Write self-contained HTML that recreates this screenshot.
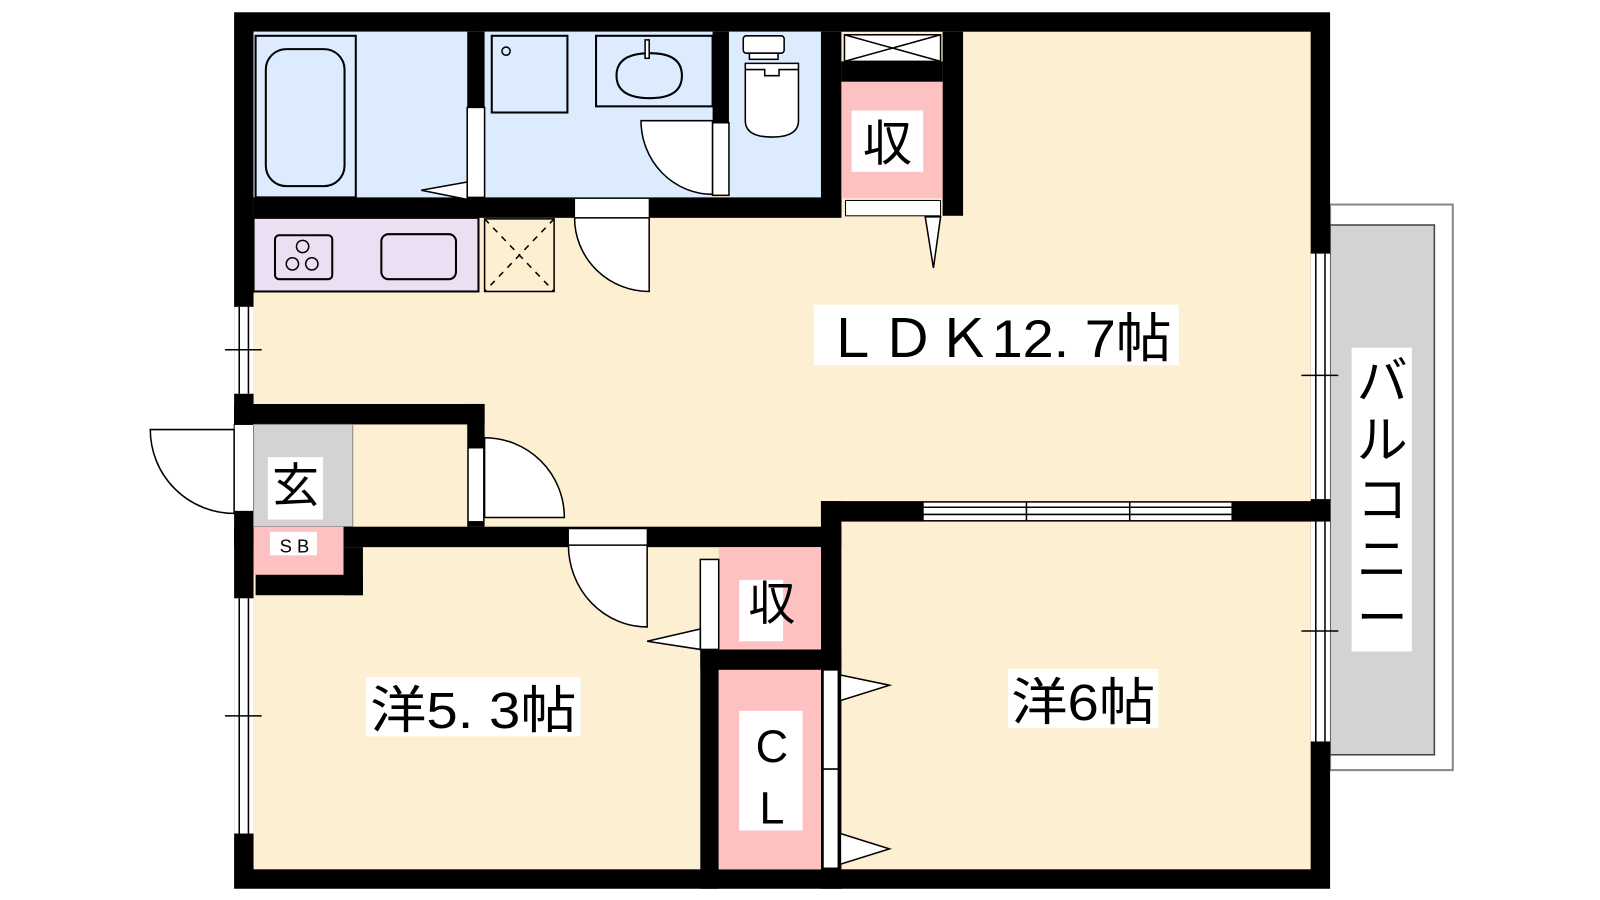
<!DOCTYPE html>
<html><head><meta charset="utf-8"><style>
html,body{margin:0;padding:0;background:#fff;width:1600px;height:900px;overflow:hidden}
text{font-family:"Liberation Sans","Noto Sans CJK JP",sans-serif;fill:#000}
</style></head><body>
<svg width="1600" height="900" viewBox="0 0 1565 880" preserveAspectRatio="none" xmlns="http://www.w3.org/2000/svg">
<!-- balcony -->
<rect x="1301" y="200" width="120" height="553" fill="#fff" stroke="#888" stroke-width="2"/>
<rect x="1301" y="220" width="102" height="518" fill="#d3d3d3" stroke="#444" stroke-width="1.5"/>
<rect x="1322" y="340" width="59" height="297" fill="#fff"/>
<g font-size="50" text-anchor="middle">
<text x="1352" y="390">バ</text><text x="1352" y="448">ル</text><text x="1352" y="506">コ</text><text x="1352" y="564">ニ</text><text x="1352" y="622">ー</text>
</g>
<!-- outer wall & interior -->
<rect x="229" y="12" width="1072" height="857" fill="#000"/>
<rect x="248" y="31" width="1034" height="819" fill="#fdf0d2"/>
<!-- blue rooms -->
<rect x="248" y="31" width="209" height="162" fill="#dcebfd"/>
<rect x="474" y="31" width="223" height="162" fill="#dcebfd"/>
<rect x="713" y="31" width="90" height="162" fill="#dcebfd"/>
<g fill="#000">
<rect x="457" y="31" width="17" height="74"/>
<rect x="697" y="31" width="16" height="89"/>
<rect x="803" y="31" width="20" height="180"/>
<rect x="922" y="31" width="20" height="180"/>
<rect x="248" y="193" width="575" height="20"/>
<rect x="823" y="60" width="99" height="20"/>
</g>
<!-- bath -->
<rect x="250" y="35" width="98" height="158" fill="none" stroke="#000" stroke-width="2"/>
<rect x="260" y="48" width="77" height="134" rx="20" fill="none" stroke="#000" stroke-width="2"/>
<rect x="457" y="105" width="17" height="88" fill="#fff" stroke="#000" stroke-width="1.5"/>
<polygon points="457,178 412,186 457,195" fill="#fff" stroke="#000" stroke-width="1.5"/>
<!-- washroom -->
<rect x="481" y="35" width="74" height="75" fill="none" stroke="#000" stroke-width="2"/>
<circle cx="495" cy="50" r="4" fill="none" stroke="#000" stroke-width="1.5"/>
<rect x="583" y="35" width="114" height="69" fill="none" stroke="#000" stroke-width="2"/>
<path d="M636 52 Q603 52 603 74 Q603 96 636 96 Q667 96 667 74 Q667 52 636 52 Z" fill="none" stroke="#000" stroke-width="2"/>
<rect x="631" y="39" width="4" height="18" fill="#fff" stroke="#000" stroke-width="1.5"/>
<path d="M627 118 L697 118 L697 190 A70 72 0 0 1 627 118 Z" fill="#fff" stroke="#000" stroke-width="1.5"/>
<rect x="697" y="120" width="16" height="71" fill="#fff" stroke="#000" stroke-width="1.5"/>
<!-- toilet -->
<rect x="727" y="35" width="40" height="17" rx="3" fill="#fff" stroke="#000" stroke-width="1.5"/>
<rect x="733" y="52" width="28" height="6" fill="#fff" stroke="#000" stroke-width="1.5"/>
<path d="M729 62 L781 62 L781 118 Q781 134 755 134 Q729 134 729 118 Z" fill="#fff" stroke="#000" stroke-width="1.5"/>
<path d="M729 68 L748 68 L748 74 L762 74 L762 68 L781 68" fill="none" stroke="#000" stroke-width="1.5"/>
<!-- storage top -->
<rect x="826" y="34" width="94" height="26" fill="#fff" stroke="#000" stroke-width="1.5"/>
<path d="M826 34 L920 60 M920 34 L826 60" stroke="#000" stroke-width="1.5"/>
<rect x="823" y="80" width="99" height="114" fill="#fdc1c1"/>
<rect x="833" y="108" width="70" height="60" fill="#fff"/>
<text x="868" y="157" font-size="48" text-anchor="middle">収</text>
<rect x="827" y="196" width="93" height="15" fill="#fff" stroke="#000" stroke-width="1"/>
<polygon points="905,212 920,212 913,262" fill="#fff" stroke="#000" stroke-width="1.5"/>
<!-- kitchen -->
<rect x="248" y="213" width="220" height="72" fill="#ecdff4" stroke="#000" stroke-width="2"/>
<rect x="269" y="230" width="56" height="43" rx="4" fill="none" stroke="#000" stroke-width="2"/>
<circle cx="296" cy="241" r="6" fill="none" stroke="#000" stroke-width="1.5"/>
<circle cx="286" cy="258" r="6" fill="none" stroke="#000" stroke-width="1.5"/>
<circle cx="305" cy="258" r="6" fill="none" stroke="#000" stroke-width="1.5"/>
<rect x="373" y="229" width="73" height="44" rx="7" fill="none" stroke="#000" stroke-width="2"/>
<rect x="474" y="214" width="68" height="71" fill="none" stroke="#000" stroke-width="1.5"/>
<path d="M474 214 L542 285 M542 214 L474 285" stroke="#000" stroke-width="1.5" stroke-dasharray="6,6"/>
<!-- door LDK->wash -->
<rect x="562" y="194" width="73" height="19" fill="#fff" stroke="#000" stroke-width="1"/>
<path d="M635 213 L635 285 A73 72 0 0 1 562 213 Z" fill="#fff" stroke="#000" stroke-width="1.5"/>
<!-- left wall windows/door -->
<rect x="229" y="300" width="19" height="85" fill="#fff"/>
<path d="M234 300 V385 M243 300 V385" stroke="#000" stroke-width="1.5"/>
<line x1="220" y1="342" x2="256" y2="342" stroke="#000" stroke-width="1.5"/>
<rect x="229" y="585" width="19" height="230" fill="#fff"/>
<path d="M234 585 V815 M243 585 V815" stroke="#000" stroke-width="1.5"/>
<line x1="220" y1="700" x2="256" y2="700" stroke="#000" stroke-width="1.5"/>
<rect x="229" y="415" width="19" height="85" fill="#fff" stroke="#000" stroke-width="1"/>
<path d="M147 420 L229 420 L229 502 A82 82 0 0 1 147 420 Z" fill="#fff" stroke="#000" stroke-width="1.5"/>
<!-- genkan walls -->
<rect x="229" y="395" width="245" height="20" fill="#000"/>
<rect x="457" y="395" width="17" height="120" fill="#000"/>
<rect x="248" y="415" width="97" height="100" fill="#d3d3d3" stroke="#888" stroke-width="1"/>
<rect x="262" y="447" width="54" height="61" fill="#fff"/>
<text x="289" y="491" font-size="46" text-anchor="middle">玄</text>
<rect x="458" y="438" width="15" height="72" fill="#fff" stroke="#000" stroke-width="1"/>
<path d="M474 506 L474 428 A78 78 0 0 1 552 506 Z" fill="#fff" stroke="#000" stroke-width="1.5"/>
<!-- wall between genkan/LDK and 洋5.3 -->
<rect x="229" y="515" width="594" height="20" fill="#000"/>
<rect x="248" y="515" width="88" height="47" fill="#fdc1c1"/>
<rect x="264" y="520" width="46" height="23" fill="#fff"/>
<text x="288" y="540" font-size="18" text-anchor="middle">S B</text>
<rect x="250" y="562" width="105" height="20" fill="#000"/>
<rect x="336" y="535" width="19" height="47" fill="#000"/>
<rect x="556" y="517" width="77" height="16" fill="#fff" stroke="#000" stroke-width="1"/>
<path d="M633 533 L633 613 A77 80 0 0 1 556 533 Z" fill="#fff" stroke="#000" stroke-width="1.5"/>
<!-- closets -->
<rect x="685" y="635" width="18" height="234" fill="#000"/>
<rect x="685" y="635" width="138" height="20" fill="#000"/>
<rect x="803" y="490" width="20" height="379" fill="#000"/>
<rect x="703" y="535" width="100" height="100" fill="#fdc1c1"/>
<rect x="723" y="567" width="43" height="60" fill="#fff"/>
<text x="755" y="606" font-size="46" text-anchor="middle">収</text>
<rect x="685" y="547" width="18" height="88" fill="#fff" stroke="#000" stroke-width="1.5"/>
<polygon points="685,615 633,627 685,635" fill="#fff" stroke="#000" stroke-width="1.5"/>
<rect x="703" y="655" width="100" height="195" fill="#fdc1c1"/>
<rect x="723" y="695" width="62" height="117" fill="#fff"/>
<text x="755" y="745" font-size="44" text-anchor="middle">C</text>
<text x="755" y="805" font-size="44" text-anchor="middle">L</text>
<rect x="805" y="655" width="15" height="97" fill="#fff" stroke="#000" stroke-width="1.5"/>
<rect x="805" y="752" width="15" height="97" fill="#fff" stroke="#000" stroke-width="1.5"/>
<polygon points="822,660 870,670 822,685" fill="#fff" stroke="#000" stroke-width="1.5"/>
<polygon points="822,815 870,830 822,845" fill="#fff" stroke="#000" stroke-width="1.5"/>
<!-- LDK / 洋6 wall -->
<rect x="803" y="490" width="498" height="20" fill="#000"/>
<rect x="903" y="491" width="302" height="18" fill="#fff"/>
<path d="M903 496 H1205 M903 503 H1205 M1004 491 V509 M1105 491 V509" stroke="#000" stroke-width="1.5"/>
<rect x="903" y="491" width="302" height="18" fill="none" stroke="#000" stroke-width="1"/>
<!-- right wall windows -->
<rect x="1282" y="248" width="19" height="240" fill="#fff"/>
<path d="M1287 248 V488 M1296 248 V488" stroke="#000" stroke-width="1.5"/>
<line x1="1273" y1="367" x2="1309" y2="367" stroke="#000" stroke-width="1.5"/>
<rect x="1282" y="510" width="19" height="215" fill="#fff"/>
<path d="M1287 510 V725 M1296 510 V725" stroke="#000" stroke-width="1.5"/>
<line x1="1273" y1="617" x2="1309" y2="617" stroke="#000" stroke-width="1.5"/>
<!-- labels -->
<rect x="796" y="298" width="357" height="59" fill="#fff"/>
<text x="806" y="349" font-size="52" textLength="340" lengthAdjust="spacingAndGlyphs">ＬＤＫ12. 7帖</text>
<rect x="358" y="662" width="210" height="58" fill="#fff"/>
<text x="362" y="712" font-size="50" textLength="202" lengthAdjust="spacingAndGlyphs">洋5. 3帖</text>
<rect x="986" y="654" width="147" height="58" fill="#fff"/>
<text x="989" y="704" font-size="50" textLength="141" lengthAdjust="spacingAndGlyphs">洋6帖</text>
</svg>
</body></html>
